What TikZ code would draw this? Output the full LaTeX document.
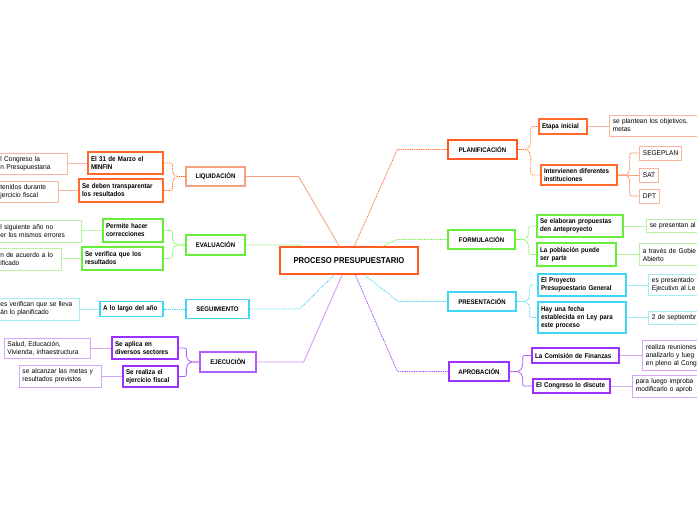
\documentclass[tikz,border=0pt]{standalone}
\usepackage{fontspec}
\setmainfont{Liberation Sans}
\newfontfamily\narrowA[FakeStretch=0.9]{Liberation Sans}
\newfontfamily\narrowB[FakeStretch=0.95]{Liberation Sans}
\usetikzlibrary{shadows}
\definecolor{cOrS}{HTML}{FF5A1F}
\definecolor{cOrK}{HTML}{FF6A2A}
\definecolor{cOrL}{HTML}{F8A080}
\definecolor{cOrLL}{HTML}{F9B69C}
\definecolor{cGr}{HTML}{66EE3A}
\definecolor{cGrL}{HTML}{A8F28E}
\definecolor{cGrLL}{HTML}{B8F3A4}
\definecolor{cCy}{HTML}{3ED6F4}
\definecolor{cCyLL}{HTML}{A6ECF8}
\definecolor{cPu}{HTML}{9B30FF}
\definecolor{cPuM}{HTML}{B060FA}
\definecolor{cPuL}{HTML}{CC8EFF}
\definecolor{cPuLL}{HTML}{D4A6F6}
\hyphenpenalty=10000
\exhyphenpenalty=10000
\newcommand\fCen{\narrowA\fontsize{8.5}{9}\selectfont\bfseries}
\newcommand\fMain{\narrowA\fontsize{6.7}{7.5}\selectfont\bfseries}
\newcommand\fKid{\narrowA\fontsize{6.9}{8}\selectfont\bfseries}
\newcommand\fLeaf{\narrowB\fontsize{6.9}{8}\selectfont}
\tikzset{
  shd/.style={drop shadow={shadow xshift=0.6pt,shadow yshift=-0.9pt,opacity=0.15,fill=black}},
  cen/.style={draw=cOrS, line width=1.5pt, fill=white, font=\fCen, align=center, inner sep=0pt, shd},
  mainb/.style={line width=1.3pt, fill=white, font=\fMain, align=center, inner sep=0pt, shd},
  kid/.style={line width=1.3pt, fill=white, font=\fKid, align=left, inner xsep=3pt, inner ysep=0pt, shd},
  leaf/.style={line width=0.8pt, fill=white, font=\fLeaf, align=left, inner xsep=3.5pt, inner ysep=0pt},
  dotl/.style={line width=0.8pt, dash pattern=on 0.9pt off 0.9pt},
  ln/.style={line width=0.8pt},
  brk/.style={rounded corners=2pt}
}
\begin{document}
\begin{tikzpicture}[x=1pt,y=-1pt]
\useasboundingbox (0,0) rectangle (697,520);
\clip (0,0) rectangle (697,520);
\fill[white] (0,0) rectangle (697,520);

% central
\node[cen, minimum width=138pt, minimum height=27pt] (pp) at (349,260.5) {PROCESO PRESUPUESTARIO};

% main branches
\node[mainb, draw=cOrL, minimum width=59pt, minimum height=19pt] (liq) at (215.5,176.5) {LIQUIDACIÓN};
\node[mainb, draw=cGr, minimum width=59pt, minimum height=20pt] (eva) at (215.5,245) {EVALUACIÓN};
\node[mainb, draw=cCy, minimum width=63pt, minimum height=19pt] (seg) at (217.5,309) {SEGUIMIENTO};
\node[mainb, draw=cPuM, minimum width=56pt, minimum height=20pt] (eje) at (228,362) {EJECUCIÓN};
\node[mainb, draw=cOrS, minimum width=69pt, minimum height=19pt] (pla) at (482.5,149.5) {PLANIFICACIÓN};
\node[mainb, draw=cGr, minimum width=67pt, minimum height=19pt] (for) at (481.5,239.5) {FORMULACIÓN};
\node[mainb, draw=cCy, minimum width=68pt, minimum height=19pt] (pre) at (482,301.5) {PRESENTACIÓN};
\node[mainb, draw=cPu, minimum width=60pt, minimum height=19pt] (apr) at (479,371.5) {APROBACIÓN};

% main connectors
\draw[ln, cOrL] ([xshift=60pt]pp.north west) -- ([xshift=53pt]liq.east) -- (liq.east);
\draw[ln, cGrL] ([xshift=23pt]pp.north west) -- ([xshift=54pt]eva.east) -- (eva.east);
\draw[dotl, cCy] ([xshift=55pt]pp.south west) -- ([xshift=50pt]seg.east) -- (seg.east);
\draw[ln, cPuL] ([xshift=63pt]pp.south west) -- ([xshift=47pt]eje.east) -- (eje.east);
\draw[dotl, cOrS] ([xshift=75pt]pp.north west) -- ([xshift=-50pt]pla.west) -- (pla.west);
\draw[dotl, cGr] ([xshift=103pt]pp.north west) -- ([xshift=-50pt]for.west) -- (for.west);
\draw[dotl, cCy] ([xshift=85pt]pp.south west) -- ([xshift=-49pt]pre.west) -- (pre.west);
\draw[dotl, cPu] ([xshift=76pt]pp.south west) -- ([xshift=-51pt]apr.west) -- (apr.west);

% children left
\node[kid, draw=cOrK, text width=69pt, minimum height=22pt] (l1) at (125.5,163) {El 31 de Marzo el\\MINFIN};
\node[kid, draw=cOrK, text width=78pt, minimum height=23pt] (l2) at (121,190.5) {Se deben transparentar\\los resultados};
\node[kid, draw=cGr, text width=54pt, minimum height=23pt] (e1) at (133,230.5) {Permite hacer\\correcciones};
\node[kid, draw=cGr, text width=75pt, minimum height=23pt] (e2) at (122.5,258.5) {Se verifica que los\\resultados};
\node[kid, draw=cCy, text width=57pt, minimum height=15pt] (s1) at (131.5,309) {A lo largo del año};
\node[kid, draw=cPu, text width=60pt, minimum height=22pt] (j1) at (145,348) {Se aplica en\\diversos sectores};
\node[kid, draw=cPu, text width=49pt, minimum height=21pt] (j2) at (150.5,376.5) {Se realiza el\\ejercicio fiscal};

% children right
\node[kid, draw=cOrK, text width=42pt, minimum height=15pt] (p1) at (563,126.5) {Etapa inicial};
\node[kid, draw=cOrK, text width=70pt, minimum height=20pt] (p2) at (579,175) {Intervienen diferentes\\instituciones};
\node[kid, draw=cGr, text width=80pt, minimum height=22pt] (f1) at (580,226) {Se elaboran propuestas\\den anteproyecto};
\node[kid, draw=cGr, text width=73pt, minimum height=23pt] (f2) at (576.5,254.5) {La población puede\\ser parte};
\node[kid, draw=cCy, text width=82pt, minimum height=22pt] (r1) at (582,285) {El Proyecto\\Presupuestario General};
\node[kid, draw=cCy, text width=82pt, minimum height=31pt] (r2) at (582,317.5) {Hay una fecha\\establecida en Ley para\\este proceso};
\node[kid, draw=cPu, text width=81pt, minimum height=15pt] (a1) at (575.5,355.5) {La Comisión de Finanzas};
\node[kid, draw=cPu, text width=71pt, minimum height=14pt] (a2) at (571.5,386) {El Congreso lo discute};

% brackets left
\draw[dotl, brk, cOrK] (liq.west) -- ++(-10,0) -- ++(-3,-5) |- (l1.east);
\draw[dotl, brk, cOrK] (liq.west) -- ++(-10,0) -- ++(-3,5) |- (l2.east);
\draw[dotl, brk, cGr] (eva.west) -- ++(-10,0) -- ++(-3,-5) |- (e1.east);
\draw[dotl, brk, cGr] (eva.west) -- ++(-10,0) -- ++(-3,5) |- (e2.east);
\draw[dotl, cCy] (seg.west) -- (s1.east);
\draw[ln, brk, cPuM] (eje.west) -- ++(-10,0) -- ++(-3,-5) |- (j1.east);
\draw[ln, brk, cPuM] (eje.west) -- ++(-10,0) -- ++(-3,5) |- (j2.east);

% brackets right
\draw[dotl, brk, cOrK] (pla.east) -- ++(10,0) -- ++(3,-5) |- (p1.west);
\draw[dotl, brk, cOrK] (pla.east) -- ++(10,0) -- ++(3,5) |- (p2.west);
\draw[dotl, brk, cGr] (for.east) -- ++(10,0) -- ++(3,-5) |- (f1.west);
\draw[dotl, brk, cGr] (for.east) -- ++(10,0) -- ++(3,5) |- (f2.west);
\draw[dotl, brk, cCy] (pre.east) -- ++(10,0) -- ++(3,-5) |- (r1.west);
\draw[dotl, brk, cCy] (pre.east) -- ++(10,0) -- ++(3,5) |- (r2.west);
\draw[ln, brk, cPuM] (apr.east) -- ++(10,0) -- ++(3,-5) |- (a1.west);
\draw[ln, brk, cPuM] (apr.east) -- ++(10,0) -- ++(3,5) |- (a2.west);

% leaves left
\node[leaf, draw=cOrLL, anchor=west, text width=63pt, minimum height=21pt] (ll1) at (-3.5,163.5) {l Congreso la\\n Presupuestaria};
\node[leaf, draw=cOrLL, anchor=west, text width=54pt, minimum height=21pt] (ll2) at (-3.5,191.5) {tenidos durante\\jercicio fiscal};
\node[leaf, draw=cGrLL, anchor=west, text width=77pt, minimum height=22pt] (el1) at (-3.5,231) {l siguiente año no\\er los mismos errores};
\node[leaf, draw=cGrLL, anchor=west, text width=57pt, minimum height=22pt] (el2) at (-3.5,259) {n de acuerdo a lo\\ificado};
\node[leaf, draw=cCyLL, anchor=west, text width=75pt, minimum height=22pt] (sl1) at (-3.5,309) {es verifican que se lleva\\án lo planificado};
\node[leaf, draw=cPuLL, text width=79pt, minimum height=20pt] (jl1) at (47,348) {Salud, Educación,\\Vivienda, infraestructura};
\node[leaf, draw=cPuLL, text width=75pt, minimum height=22pt] (jl2) at (60,376) {se alcanzar las metas y\\resultados previstos};

\draw[ln, cOrLL] (l1.west) -- (l1.west -| ll1.east);
\draw[ln, cOrLL] (l2.west) -- (l2.west -| ll2.east);
\draw[ln, cGrLL] (e1.west) -- (e1.west -| el1.east);
\draw[ln, cGrLL] (e2.west) -- (e2.west -| el2.east);
\draw[ln, cCyLL] (s1.west) -- (s1.west -| sl1.east);
\draw[ln, cPuLL] (j1.west) -- (j1.west -| jl1.east);
\draw[ln, cPuLL] (j2.west) -- (j2.west -| jl2.east);

% leaves right
\node[leaf, draw=cOrLL, anchor=west, text width=90pt, minimum height=21pt] (pl1) at (609,125.5) {se plantean los objetivos,\\metas};
\node[leaf, draw=cOrLL, anchor=west, minimum height=14pt] (sg1) at (639,153) {SEGEPLAN};
\node[leaf, draw=cOrLL, anchor=west, minimum height=14pt] (sg2) at (639,175) {SAT};
\node[leaf, draw=cOrLL, anchor=west, minimum height=14pt] (sg3) at (639,196) {DPT};
\node[leaf, draw=cGrLL, anchor=west, text width=90pt, minimum height=13pt] (fl1) at (646,226) {se presentan al};
\node[leaf, draw=cGrLL, anchor=west, text width=90pt, minimum height=22pt] (fl2) at (639,254.5) {a través de Gobie\\Abierto};
\node[leaf, draw=cCyLL, anchor=west, text width=90pt, minimum height=21pt] (rl1) at (648,285) {es presentado\\Ejecutivo al Le};
\node[leaf, draw=cCyLL, anchor=west, text width=90pt, minimum height=13pt] (rl2) at (648,317.5) {2 de septiembr};
\node[leaf, draw=cPuLL, anchor=west, text width=90pt, minimum height=30pt] (al1) at (642,355.5) {realiza reuniones\\analizarlo y lueg\\en pleno al Cong};
\node[leaf, draw=cPuLL, anchor=west, text width=90pt, minimum height=22pt] (al2) at (632,386) {para luego improba\\modificarlo o aprob};

\draw[ln, cOrLL] (p1.east) -- (p1.east -| pl1.west);
\draw[ln, brk, cOrL] (p2.east) -- ++(10,0) -- ++(2,-5) |- (sg1.west);
\draw[ln, cOrL] (p2.east) -- (sg2.west);
\draw[ln, brk, cOrL] (p2.east) -- ++(10,0) -- ++(2,5) |- (sg3.west);
\draw[ln, cGrLL] (f1.east) -- (f1.east -| fl1.west);
\draw[ln, cGrLL] (f2.east) -- (f2.east -| fl2.west);
\draw[ln, cCyLL] (r1.east) -- (r1.east -| rl1.west);
\draw[ln, cCyLL] (r2.east) -- (r2.east -| rl2.west);
\draw[ln, cPuLL] (a1.east) -- (a1.east -| al1.west);
\draw[ln, cPuLL] (a2.east) -- (a2.east -| al2.west);
\end{tikzpicture}
\end{document}
